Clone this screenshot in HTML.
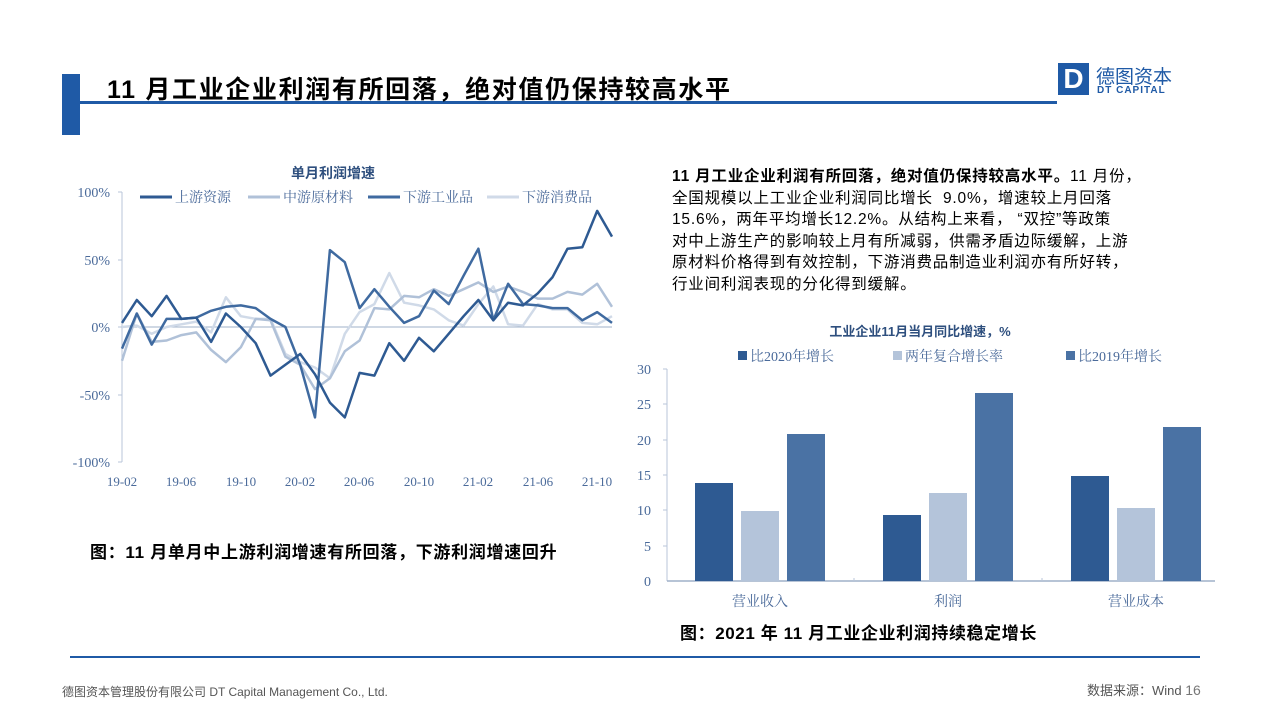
<!DOCTYPE html>
<html><head><meta charset="utf-8"><style>
body{margin:0;width:1280px;height:720px;background:#fff;position:relative;overflow:hidden;font-family:"Liberation Sans","Noto Sans CJK SC",sans-serif;}
.a{position:absolute;white-space:nowrap;}
.p div{height:21.5px}
</style></head><body>
<div class="a" style="left:62px;top:74px;width:18px;height:61px;background:#1f5aa6"></div>
<div class="a" style="left:80px;top:101px;width:977px;height:3px;background:#1f5aa6"></div>
<div class="a" style="left:107px;top:70px;font-size:25px;font-weight:bold;color:#000;letter-spacing:1.65px">11 月工业企业利润有所回落，绝对值仍保持较高水平</div>
<div class="a" style="left:1058px;top:63px;width:31px;height:32px;background:#1f5aa6;color:#fff;font-size:28px;font-weight:bold;line-height:32px;text-align:center">D</div>
<div class="a" style="left:1096px;top:62px;font-size:19px;color:#1f5aa6">德图资本</div>
<div class="a" style="left:1097px;top:85px;font-size:10px;color:#1f5aa6;font-weight:bold;letter-spacing:1px">DT CAPITAL</div>

<div class="a p" style="left:672px;top:166px;font-size:15.5px;line-height:21.5px;color:#000;letter-spacing:0.8px">
<div><b>11 月工业企业利润有所回落，绝对值仍保持较高水平。</b>11 月份，</div>
<div>全国规模以上工业企业利润同比增长&nbsp; 9.0%，增速较上月回落</div>
<div>15.6%，两年平均增长12.2%。从结构上来看，&nbsp;“双控”等政策</div>
<div>对中上游生产的影响较上月有所减弱，供需矛盾边际缓解，上游</div>
<div>原材料价格得到有效控制，下游消费品制造业利润亦有所好转，</div>
<div>行业间利润表现的分化得到缓解。</div>
</div>

<svg class="a" style="left:0;top:0" width="1280" height="720" font-family="Liberation Serif,Noto Serif CJK SC,serif">
<text x="333" y="178" font-size="14" font-weight="bold" fill="#2e4f7e" text-anchor="middle" font-family="Liberation Sans,Noto Sans CJK SC,sans-serif">单月利润增速</text>
<g font-size="14" fill="#4a6a9a">
<text x="110" y="197" text-anchor="end">100%</text>
<text x="110" y="265" text-anchor="end">50%</text>
<text x="110" y="332" text-anchor="end">0%</text>
<text x="110" y="400" text-anchor="end">-50%</text>
<text x="110" y="467" text-anchor="end">-100%</text>
</g>
<line x1="122" y1="192" x2="122" y2="462" stroke="#b8c6da"/>
<g stroke="#b8c6da"><line x1="118" y1="192" x2="122" y2="192"/><line x1="118" y1="260" x2="122" y2="260"/><line x1="118" y1="327" x2="122" y2="327"/><line x1="118" y1="395" x2="122" y2="395"/><line x1="118" y1="462" x2="122" y2="462"/></g>
<line x1="122" y1="327" x2="612" y2="327" stroke="#9fb0c8"/>
<g font-size="13" fill="#4a6a9a" text-anchor="middle">
<text x="122" y="486">19-02</text><text x="181" y="486">19-06</text><text x="241" y="486">19-10</text><text x="300" y="486">20-02</text><text x="359" y="486">20-06</text><text x="419" y="486">20-10</text><text x="478" y="486">21-02</text><text x="538" y="486">21-06</text><text x="597" y="486">21-10</text>
</g>
<g font-size="14" fill="#4a6a9a">
<line x1="140" y1="197" x2="172" y2="197" stroke="#2e5a92" stroke-width="3"/><text x="175" y="202">上游资源</text>
<line x1="248" y1="197" x2="280" y2="197" stroke="#b0c1d8" stroke-width="3"/><text x="283" y="202">中游原材料</text>
<line x1="368" y1="197" x2="400" y2="197" stroke="#3f6aa0" stroke-width="3"/><text x="403" y="202">下游工业品</text>
<line x1="487" y1="197" x2="519" y2="197" stroke="#d0dae8" stroke-width="3"/><text x="522" y="202">下游消费品</text>
</g>
<g id="lines" fill="none" stroke-width="2.5" stroke-linejoin="round"></g>

<text x="920" y="336" font-size="13" font-weight="bold" fill="#2e4f7e" text-anchor="middle" font-family="Liberation Sans,Noto Sans CJK SC,sans-serif">工业企业11月当月同比增速，%</text>
<g font-size="14" fill="#4a6a9a">
<rect x="738" y="351" width="9" height="9" fill="#2e5a92"/><text x="750" y="361">比2020年增长</text>
<rect x="893" y="351" width="9" height="9" fill="#b4c4da"/><text x="905" y="361">两年复合增长率</text>
<rect x="1066" y="351" width="9" height="9" fill="#4a72a4"/><text x="1078" y="361">比2019年增长</text>
</g>
<g font-size="14" fill="#4a6a9a" text-anchor="end">
<text x="651" y="374">30</text><text x="651" y="409">25</text><text x="651" y="445">20</text><text x="651" y="480">15</text><text x="651" y="515">10</text><text x="651" y="551">5</text><text x="651" y="586">0</text>
</g>
<line x1="667" y1="369" x2="667" y2="581" stroke="#b8c6da"/>
<line x1="667" y1="581" x2="1215" y2="581" stroke="#9fb0c8" stroke-width="1.5"/>
<g stroke="#b8c6da"><line x1="663" y1="369" x2="667" y2="369"/><line x1="663" y1="404" x2="667" y2="404"/><line x1="663" y1="440" x2="667" y2="440"/><line x1="663" y1="475" x2="667" y2="475"/><line x1="663" y1="510" x2="667" y2="510"/><line x1="663" y1="546" x2="667" y2="546"/><line x1="854" y1="578" x2="854" y2="581"/><line x1="1042" y1="578" x2="1042" y2="581"/></g>
<g>
<rect x="695" y="483" width="38" height="98" fill="#2e5a92"/>
<rect x="741" y="511" width="38" height="70" fill="#b4c4da"/>
<rect x="787" y="434" width="38" height="147" fill="#4a72a4"/>
<rect x="883" y="515" width="38" height="66" fill="#2e5a92"/>
<rect x="929" y="493" width="38" height="88" fill="#b4c4da"/>
<rect x="975" y="393" width="38" height="188" fill="#4a72a4"/>
<rect x="1071" y="476" width="38" height="105" fill="#2e5a92"/>
<rect x="1117" y="508" width="38" height="73" fill="#b4c4da"/>
<rect x="1163" y="427" width="38" height="154" fill="#4a72a4"/>
</g>
<g font-size="14" fill="#4a6a9a" text-anchor="middle"><text x="760" y="606">营业收入</text><text x="948" y="606">利润</text><text x="1136" y="606">营业成本</text></g>
</svg>

<div class="a" style="left:90px;top:538px;font-size:17px;font-weight:bold;letter-spacing:0.7px">图：11 月单月中上游利润增速有所回落，下游利润增速回升</div>
<div class="a" style="left:680px;top:619px;font-size:17px;font-weight:bold;letter-spacing:0.6px">图：2021 年 11 月工业企业利润持续稳定增长</div>
<div class="a" style="left:70px;top:656px;width:1130px;height:2px;background:#1f5aa6"></div>
<div class="a" style="left:62px;top:683px;font-size:12px;color:#555">德图资本管理股份有限公司 DT Capital Management Co., Ltd.</div>
<div class="a" style="left:1087px;top:680px;font-size:13px;color:#555">数据来源：Wind <span style="font-size:14px;color:#777">16</span></div>

<script>
var S=[
["#d0dae8",[0,1,-5,0,2,4,-4,22,8,6,6,-20,-26,-30,-38,-5,11,17,40,18,16,13,5,1,17,30,2,1,17,13,13,3,2,8]],
["#b0c1d8",[-25,10,-11,-10,-6,-4,-17,-26,-15,6,5,-22,-28,-46,-38,-18,-10,14,13,23,22,28,23,28,33,26,30,26,21,21,26,24,32,15]],
["#3f6aa0",[-16,10,-13,6,6,7,12,15,16,14,6,0,-28,-67,57,48,14,28,15,3,8,27,17,38,58,5,32,17,16,14,14,5,11,3]],
["#2e5a92",[3,20,8,23,6,7,-11,10,0,-12,-36,-28,-20,-35,-56,-67,-34,-36,-12,-25,-8,-18,-5,8,20,5,18,16,25,37,58,59,86,67]]];
var g=document.getElementById("lines"),ns="http://www.w3.org/2000/svg";
S.forEach(function(s){var p=s[1].map(function(v,i){return (122+i*14.85).toFixed(1)+","+(327-v*1.35).toFixed(1)}).join(" ");
var e=document.createElementNS(ns,"polyline");e.setAttribute("points",p);e.setAttribute("stroke",s[0]);g.appendChild(e);});
</script>
</body></html>
